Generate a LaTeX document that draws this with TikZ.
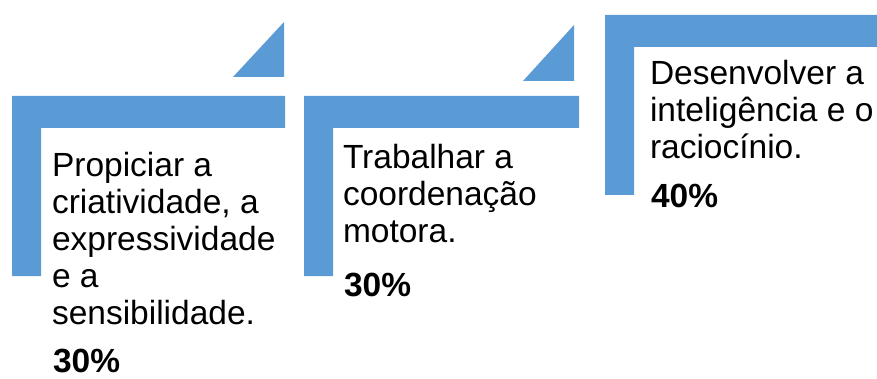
\documentclass[tikz,border=0pt]{standalone}
\usepackage{fontspec}
\setmainfont{Liberation Sans}
\definecolor{barblue}{HTML}{5B9BD5}
\tikzset{
  bar/.style={fill=barblue, draw=none},
  txt/.style={anchor=base west, inner sep=0pt, outer sep=0pt, font=\fontsize{33.5}{36.8}\selectfont},
  pct/.style={anchor=base west, inner sep=0pt, outer sep=0pt, font=\fontsize{33.5}{36.8}\selectfont\bfseries}
}
\begin{document}
\begin{tikzpicture}[x=1pt, y=-1pt]
\useasboundingbox (0,0) rectangle (877,379);
% panel 1
\fill[bar] (12,96) -- (285,96) -- (285,128) -- (41,128) -- (41,276) -- (12,276) -- cycle;
\fill[bar] (233,77) -- (284,77) -- (284,22) -- cycle;
% panel 2
\fill[bar] (304,96) -- (579,96) -- (579,128) -- (333,128) -- (333,276) -- (304,276) -- cycle;
\fill[bar] (523,81) -- (574,81) -- (574,25) -- cycle;
% panel 3
\fill[bar] (605,15) -- (877,15) -- (877,47) -- (634,47) -- (634,195) -- (605,195) -- cycle;
% texts
\node[txt] (t1) at (52,177) {\begin{tabular}[t]{@{}l@{}}Propiciar a\\criatividade, a\\expressividade\\e a\\sensibilidade.\end{tabular}};
\node[pct] (p1) at (53,372) {30\%};
\node[txt] (t2) at (343,169) {\begin{tabular}[t]{@{}l@{}}Trabalhar a\\coordenação\\motora.\end{tabular}};
\node[pct] (p2) at (344,296) {30\%};
\node[txt] (t3) at (650,85) {\begin{tabular}[t]{@{}l@{}}Desenvolver a\\inteligência e o\\raciocínio.\end{tabular}};
\node[pct] (p3) at (651,208) {40\%};
\end{tikzpicture}
\end{document}
